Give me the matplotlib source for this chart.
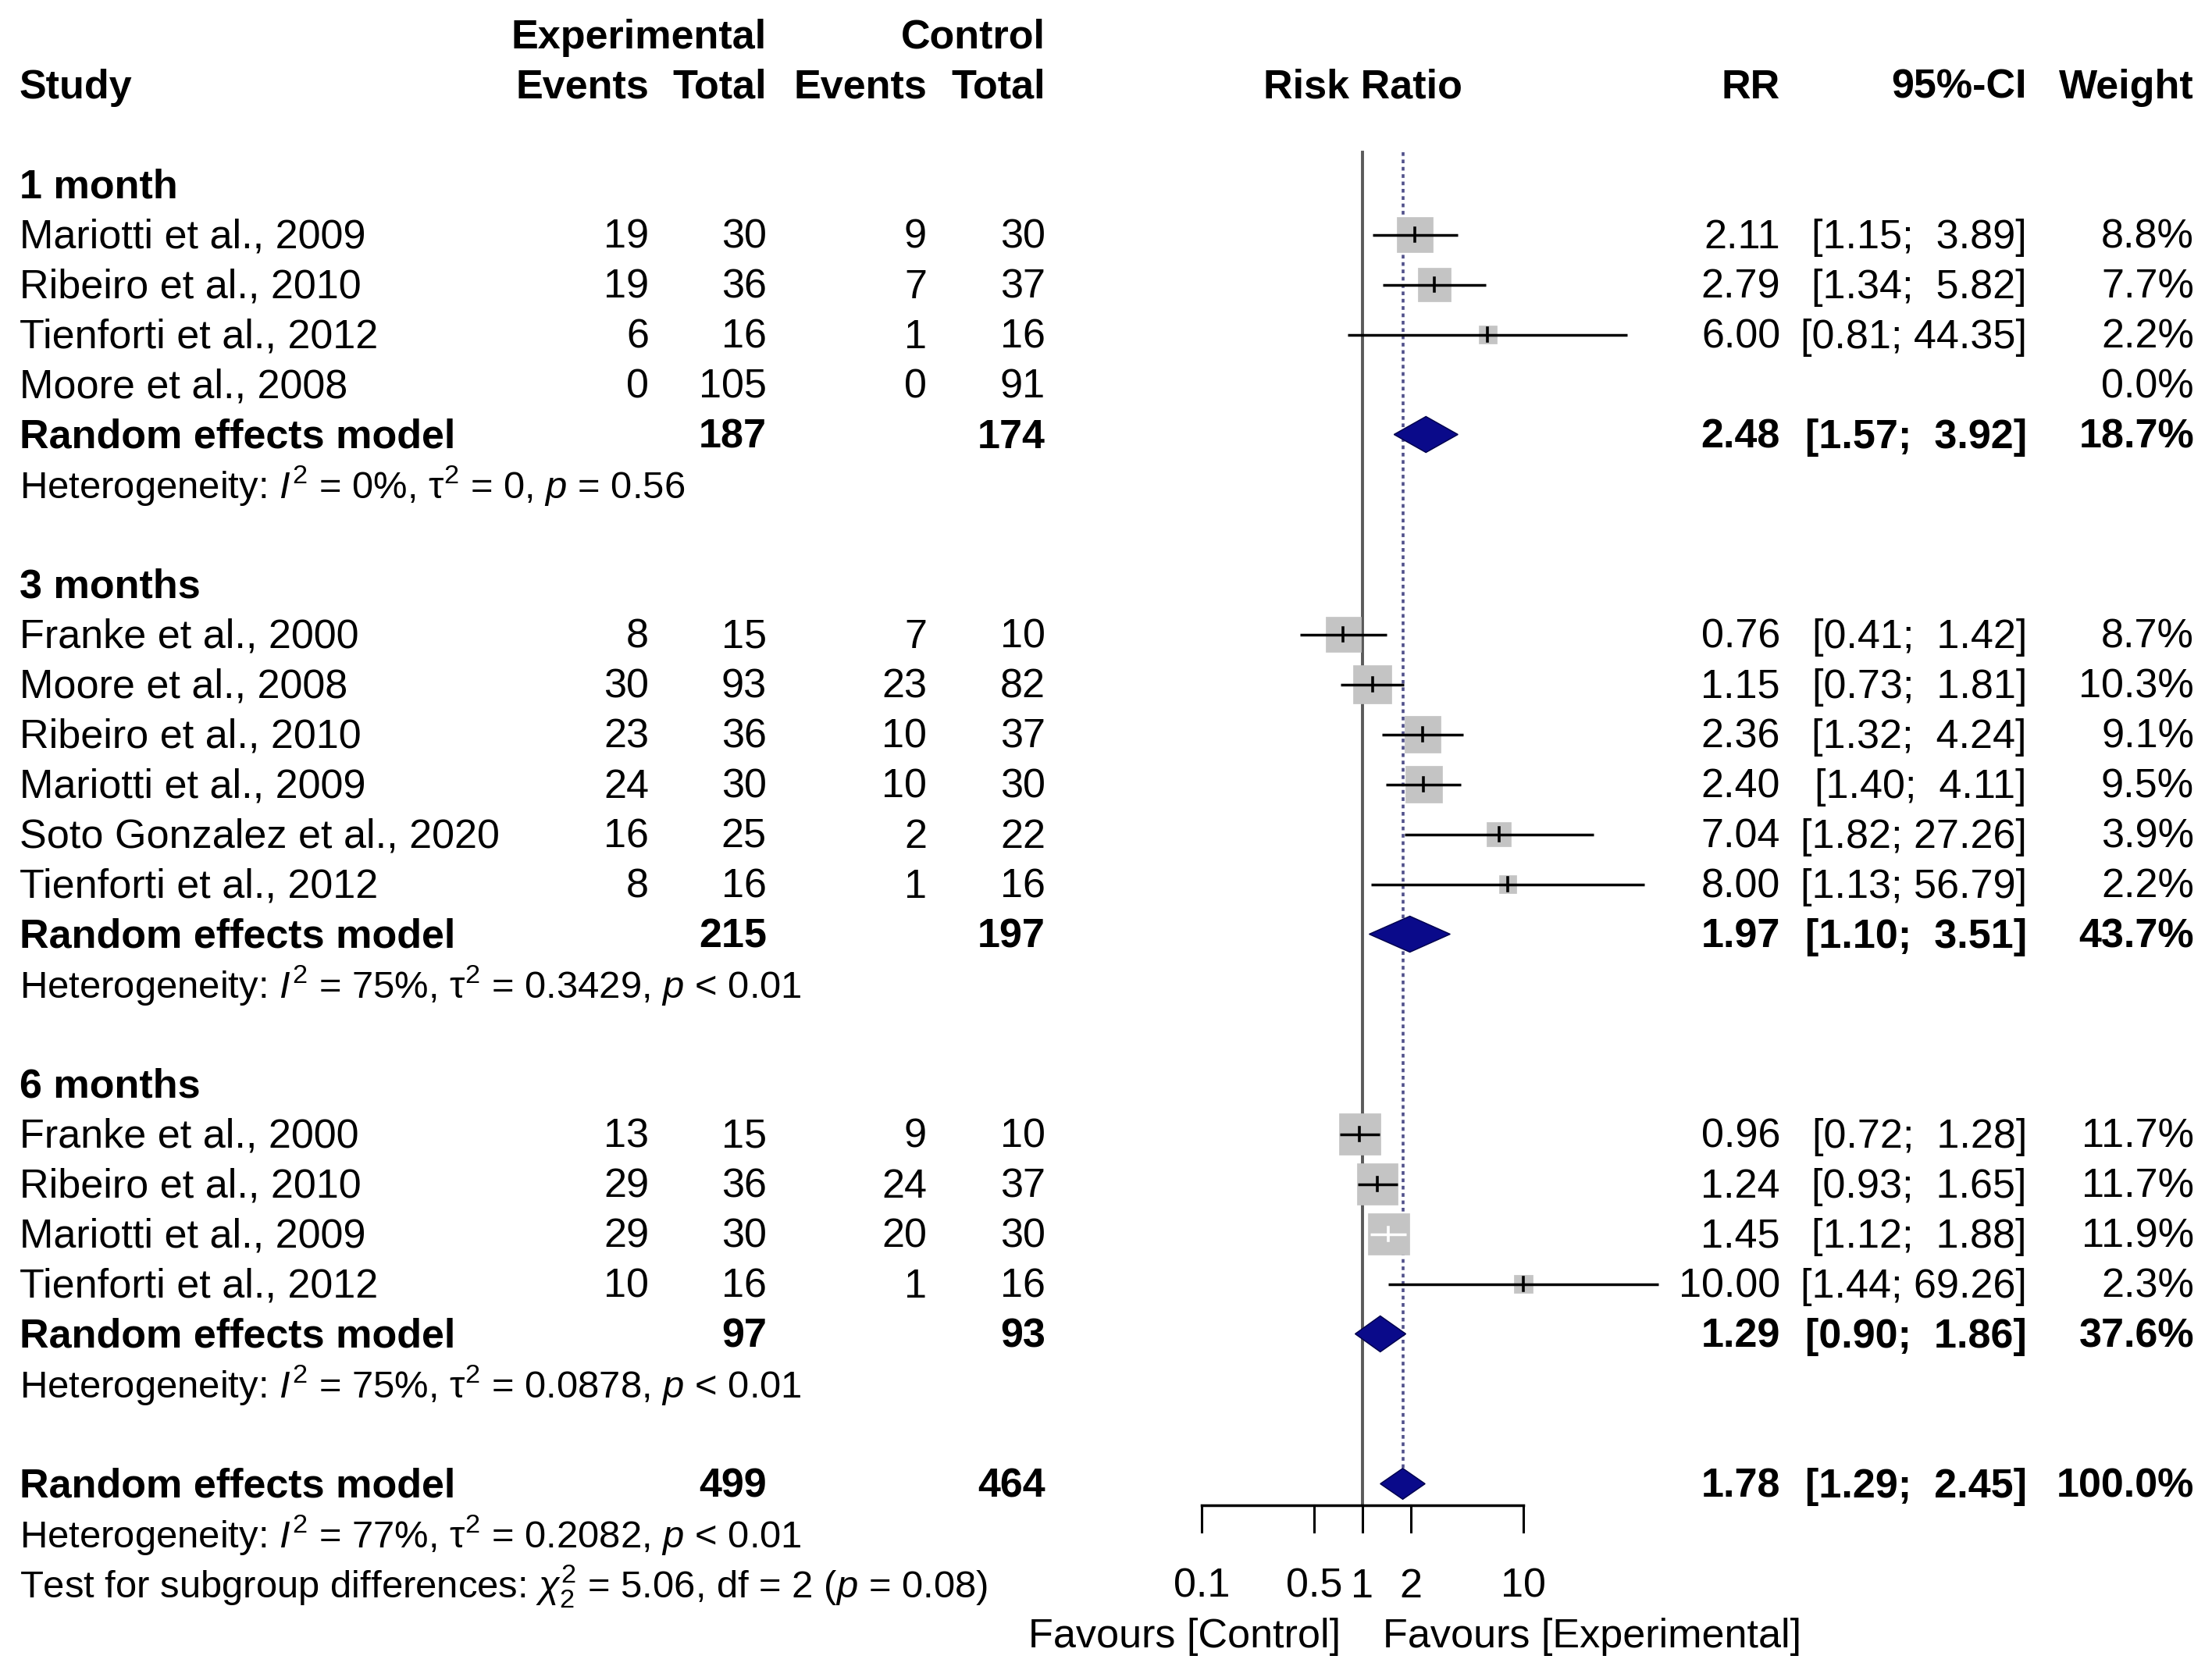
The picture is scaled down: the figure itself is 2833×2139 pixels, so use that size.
import matplotlib
matplotlib.use("Agg")
import matplotlib.pyplot as plt
from matplotlib.patches import Rectangle, Polygon
import numpy as np

plt.rcParams['font.family'] = ['Liberation Sans', 'DejaVu Sans']
plt.rcParams['mathtext.fontset'] = 'custom'
plt.rcParams['mathtext.rm'] = 'Liberation Sans'
plt.rcParams['mathtext.it'] = 'Liberation Sans:italic'
plt.rcParams['mathtext.bf'] = 'Liberation Sans:bold'

# ---- data ----
groups = ["1 month", "3 months", "6 months"]

study_group = [0, 0, 0, 0,
               1, 1, 1, 1, 1, 1,
               2, 2, 2, 2]
study_names = ["Mariotti et al., 2009", "Ribeiro et al., 2010", "Tienforti et al., 2012", "Moore et al., 2008",
               "Franke et al., 2000", "Moore et al., 2008", "Ribeiro et al., 2010", "Mariotti et al., 2009",
               "Soto Gonzalez et al., 2020", "Tienforti et al., 2012",
               "Franke et al., 2000", "Ribeiro et al., 2010", "Mariotti et al., 2009", "Tienforti et al., 2012"]
exp_events = [19, 19, 6, 0, 8, 30, 23, 24, 16, 8, 13, 29, 29, 10]
exp_total = [30, 36, 16, 105, 15, 93, 36, 30, 25, 16, 15, 36, 30, 16]
ctl_events = [9, 7, 1, 0, 7, 23, 10, 10, 2, 1, 9, 24, 20, 1]
ctl_total = [30, 37, 16, 91, 10, 82, 37, 30, 22, 16, 10, 37, 30, 16]
rr = [2.11, 2.79, 6.00, None, 0.76, 1.15, 2.36, 2.40, 7.04, 8.00, 0.96, 1.24, 1.45, 10.00]
ci_lo = [1.15, 1.34, 0.81, None, 0.41, 0.73, 1.32, 1.40, 1.82, 1.13, 0.72, 0.93, 1.12, 1.44]
ci_hi = [3.89, 5.82, 44.35, None, 1.42, 1.81, 4.24, 4.11, 27.26, 56.79, 1.28, 1.65, 1.88, 69.26]
weight = [8.8, 7.7, 2.2, 0.0, 8.7, 10.3, 9.1, 9.5, 3.9, 2.2, 11.7, 11.7, 11.9, 2.3]

sub_exp_total = [187, 215, 97]
sub_ctl_total = [174, 197, 93]
sub_rr = [2.48, 1.97, 1.29]
sub_lo = [1.57, 1.10, 0.90]
sub_hi = [3.92, 3.51, 1.86]
sub_weight = [18.7, 43.7, 37.6]
sub_i2 = ["0%", "75%", "75%"]
sub_tau2 = ["0", "0.3429", "0.0878"]
sub_p = ["= 0.56", "< 0.01", "< 0.01"]

all_exp_total, all_ctl_total = 499, 464
all_rr, all_lo, all_hi, all_weight = 1.78, 1.29, 2.45, 100.0
all_i2, all_tau2, all_p = "77%", "0.2082", "< 0.01"
test_chi2, test_df, test_p = "5.06", "2", "= 0.08"

axis_ticks = [0.1, 0.5, 1, 2, 10]
axis_labels = ["0.1", "0.5", "1", "2", "10"]

# ---- layout ----
W, H = 2833, 2139
ROW_PX = 64.0
TOP_PX = 44.5
X_ONE = 1745.0   # pixel of RR = 1
DEC = 206.0      # pixels per decade
FS = 37.5
FS_HET = 35.3
BASE = 0.27      # baseline offset in rows

y_top = -TOP_PX / ROW_PX
y_bot = (H - TOP_PX) / ROW_PX

fig = plt.figure(figsize=(W / 100, H / 100), dpi=100)
fig.patch.set_facecolor("white")

tx = fig.add_axes([0, 0, 1, 1])
tx.set_xlim(0, W)
tx.set_ylim(y_bot, y_top)
tx.axis("off")

xlo, xhi = 0.02, 300
left_px = X_ONE + DEC * np.log10(xlo)
right_px = X_ONE + DEC * np.log10(xhi)
ax = fig.add_axes([left_px / W, 0, (right_px - left_px) / W, 1])
ax.set_xscale("log")
ax.set_xlim(xlo, xhi)
ax.set_ylim(y_bot, y_top)
ax.axis("off")
ax.patch.set_alpha(0)

X_STUDY, X_EE, X_ET, X_CE, X_CT = 25, 831, 982, 1187, 1339
X_RR, X_CI, X_W = 2280, 2596, 2810


def put(x, r, s, ha="right", bold=False, fs=FS):
    tx.text(x, r + BASE, s, ha=ha, va="baseline", fontsize=fs,
            fontweight="bold" if bold else "normal")


def fmt_ci(lo, hi):
    return "[%.2f; %5.2f]" % (lo, hi)


def diamond(est, lo, hi, r, dh):
    ax.add_patch(Polygon([(lo, r), (est, r - dh), (hi, r), (est, r + dh)],
                         closed=True, facecolor="#0a0a8a", edgecolor="#00004a",
                         lw=1.0, zorder=4))


# headers
put(X_ET, 0, "Experimental", bold=True)
put(X_CT, 0, "Control", bold=True)
put(X_STUDY, 1, "Study", ha="left", bold=True)
put(X_EE, 1, "Events", bold=True)
put(X_ET, 1, "Total", bold=True)
put(X_CE, 1, "Events", bold=True)
put(X_CT, 1, "Total", bold=True)
ax.text(1, 1 + BASE, "Risk Ratio", ha="center", va="baseline", fontsize=FS, fontweight="bold")
put(X_RR, 1, "RR", bold=True)
put(X_CI, 1, "95%-CI", bold=True)
put(X_W, 1, "Weight", bold=True)

row = 3
for g, gname in enumerate(groups):
    put(X_STUDY, row, gname, ha="left", bold=True)
    row += 1
    for i in range(len(study_names)):
        if study_group[i] != g:
            continue
        put(X_STUDY, row, study_names[i], ha="left")
        put(X_EE, row, str(exp_events[i]))
        put(X_ET, row, str(exp_total[i]))
        put(X_CE, row, str(ctl_events[i]))
        put(X_CT, row, str(ctl_total[i]))
        put(X_W, row, "%.1f%%" % weight[i])
        if rr[i] is not None:
            put(X_RR, row, "%.2f" % rr[i])
            put(X_CI, row, fmt_ci(ci_lo[i], ci_hi[i]))
            side = 45.5 * np.sqrt(weight[i] / 8.8)
            h = side / 2 / DEC
            sq_lo, sq_hi = rr[i] * 10 ** -h, rr[i] * 10 ** h
            ax.add_patch(Rectangle((sq_lo, row - side / 2 / ROW_PX), sq_hi - sq_lo, side / ROW_PX,
                                   facecolor="#c4c4c4", edgecolor="#c4c4c4", lw=0.5, zorder=2))
            # CI drawn white only when it sits well inside the square
            inside = (np.log10(ci_lo[i] / sq_lo) > 0.01) and (np.log10(sq_hi / ci_hi[i]) > 0.01)
            col = "white" if inside else "black"
            ax.plot([ci_lo[i], ci_hi[i]], [row, row], color=col, lw=2.5, zorder=3,
                    solid_capstyle="butt")
            ax.plot([rr[i], rr[i]], [row - 0.14, row + 0.14], color=col, lw=2.6, zorder=3)
        row += 1
    # subgroup random effects
    put(X_STUDY, row, "Random effects model", ha="left", bold=True)
    put(X_ET, row, str(sub_exp_total[g]), bold=True)
    put(X_CT, row, str(sub_ctl_total[g]), bold=True)
    put(X_RR, row, "%.2f" % sub_rr[g], bold=True)
    put(X_CI, row, fmt_ci(sub_lo[g], sub_hi[g]), bold=True)
    put(X_W, row, "%.1f%%" % sub_weight[g], bold=True)
    diamond(sub_rr[g], sub_lo[g], sub_hi[g], row, 0.36)
    row += 1
    put(X_STUDY, row, r"Heterogeneity: $I^2$ = %s, $\mathrm{\tau}^2$ = %s, $p$ %s"
        % (sub_i2[g], sub_tau2[g], sub_p[g]), ha="left", fs=FS_HET)
    row += 2

# overall
overall_row = row
put(X_STUDY, row, "Random effects model", ha="left", bold=True)
put(X_ET, row, str(all_exp_total), bold=True)
put(X_CT, row, str(all_ctl_total), bold=True)
put(X_RR, row, "%.2f" % all_rr, bold=True)
put(X_CI, row, fmt_ci(all_lo, all_hi), bold=True)
put(X_W, row, "%.1f%%" % all_weight, bold=True)
diamond(all_rr, all_lo, all_hi, row, 0.31)
put(X_STUDY, row + 1, r"Heterogeneity: $I^2$ = %s, $\mathrm{\tau}^2$ = %s, $p$ %s"
    % (all_i2, all_tau2, all_p), ha="left", fs=FS_HET)
put(X_STUDY, row + 2, r"Test for subgroup differences: $\chi^2_%s$ = %s, df = %s ($p$ %s)"
    % (test_df, test_chi2, test_df, test_p), ha="left", fs=FS_HET)

# reference lines
axis_y = overall_row + 0.43
ax.plot([1, 1], [2.35, axis_y], color="#5a5a5a", lw=2.8, zorder=1)
ax.plot([all_rr, all_rr], [2.35, overall_row - 0.31], color="#50508a", lw=2.6,
        linestyle=(0, (1.3, 1.3)), zorder=1)

# x axis
ax.plot([axis_ticks[0], axis_ticks[-1]], [axis_y, axis_y], color="black", lw=2.5, zorder=1)
for t, lab in zip(axis_ticks, axis_labels):
    ax.plot([t, t], [axis_y, axis_y + 0.53], color="black", lw=2.2, zorder=1)
    ax.text(t, overall_row + 2 + BASE, lab, ha="center", va="baseline", fontsize=FS)

ax.annotate("Favours [Control]", xy=(1, overall_row + 3 + BASE), xytext=(-20, 0),
            textcoords="offset points", ha="right", va="baseline", fontsize=FS)
ax.annotate("Favours [Experimental]", xy=(1, overall_row + 3 + BASE), xytext=(19, 0),
            textcoords="offset points", ha="left", va="baseline", fontsize=FS)

fig.savefig("out.png", dpi=100, facecolor="white")
